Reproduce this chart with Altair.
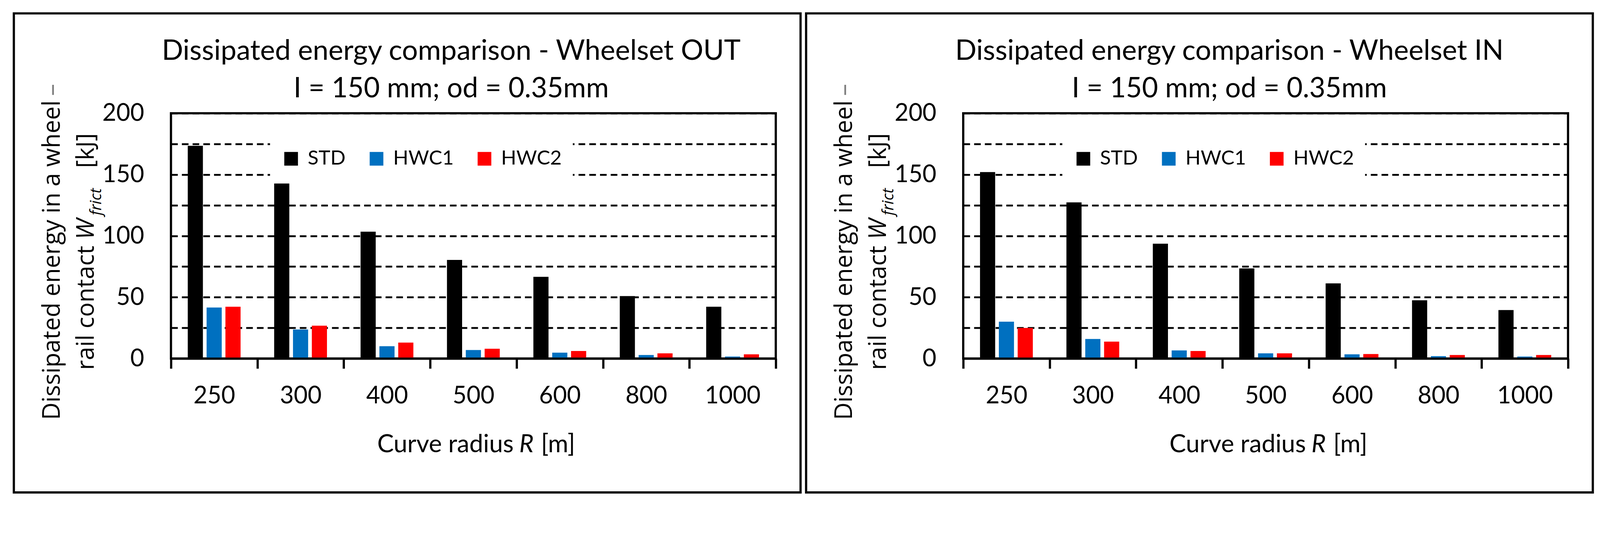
import altair as alt
import pandas as pd

# ---------------- data ----------------
radii = ["250", "300", "400", "500", "600", "800", "1000"]
series = ["STD", "HWC1", "HWC2"]
colors = ["#000000", "#0070C0", "#FF0000"]

out_std = [173.5, 142.7, 103.4, 80.4, 66.6, 50.9, 42.2]
out_hwc1 = [41.6, 23.7, 10.0, 6.9, 4.8, 2.9, 1.6]
out_hwc2 = [42.2, 26.8, 13.0, 8.0, 6.1, 4.2, 3.4]

in_std = [152.0, 127.3, 93.6, 73.5, 61.3, 47.5, 39.5]
in_hwc1 = [30.0, 15.9, 6.6, 4.2, 3.4, 1.9, 1.6]
in_hwc2 = [24.9, 13.8, 6.1, 4.2, 3.7, 2.9, 2.9]

title_out = ["Dissipated energy comparison - Wheelset OUT", "I = 150 mm; od = 0.35mm"]
title_in = ["Dissipated energy comparison - Wheelset IN", "I = 150 mm; od = 0.35mm"]

y_title_1 = "Dissipated energy in a wheel"
y_title_dash = "\u2013"
y_title_2 = "rail contact"
y_title_W = "W"
y_title_sub = "frict"
y_title_unit = "[kJ]"
x_title_1 = "Curve radius"
x_title_R = "R"
x_title_unit = "[m]"

y_ticks = [0, 25, 50, 75, 100, 125, 150, 175, 200]

# ---------------- layout ----------------
W, H = 1636, 663
one = pd.DataFrame({"k": [0]})


def txt(text, x, y, font, size, italic=False, align="left", angle=0, color="black"):
    return alt.Chart(one).mark_text(
        text=text, font=font, fontSize=size,
        fontStyle="italic" if italic else "normal",
        align=align, baseline="alphabetic", angle=angle, color=color,
    ).encode(x=alt.value(x), y=alt.value(y))


def panel(std, h1, h2, title_lines, dx):
    df = pd.DataFrame({
        "radius": radii * 3,
        "series": [s for s in series for _ in radii],
        "value": std + h1 + h2,
    })
    bars = alt.Chart(df).mark_bar().encode(
        x=alt.X("radius:N", sort=radii,
                scale=alt.Scale(paddingInner=0, paddingOuter=0),
                axis=alt.Axis(labelAngle=0, labelFont="Lato", labelFontSize=65,
                              labelColor="black", labelPadding=43, tickSize=27,
                              tickWidth=6, tickColor="black", tickBand="extent",
                              domain=True, domainWidth=6, domainColor="black",
                              title=None, zindex=1, grid=False)),
        xOffset=alt.XOffset("series:N", sort=series,
                            scale=alt.Scale(paddingInner=0.196, paddingOuter=0.892)),
        y=alt.Y("value:Q", scale=alt.Scale(domain=[0, 200], nice=False),
                axis=alt.Axis(values=y_ticks,
                              labelExpr="datum.value % 50 == 0 ? datum.label : ''",
                              grid=True, gridDash=[18, 11], gridWidth=5,
                              gridColor="black", gridOpacity=1, domain=False,
                              ticks=False, tickSize=0, labelFont="Lato",
                              labelFontSize=65, labelColor="black",
                              labelPadding=73, title=None)),
        color=alt.Color("series:N", sort=series,
                        scale=alt.Scale(domain=series, range=colors),
                        legend=alt.Legend(orient="none", legendX=268, legendY=66,
                                          direction="horizontal", title=None,
                                          symbolType="square", symbolSize=1369,
                                          symbolStrokeWidth=0, labelFont="Lato",
                                          labelFontSize=54, labelColor="black",
                                          labelOffset=18, columnPadding=56,
                                          labelLimit=400, padding=30,
                                          fillColor="white")),
    )
    frame = alt.Chart(one).mark_rect(fillOpacity=0, stroke="black", strokeWidth=6).encode(
        x=alt.value(-425), x2=alt.value(W + 67), y=alt.value(-270), y2=alt.value(H + 362)
    )
    texts = [
        txt(title_lines[0], W / 2 + dx, -144, "Lato", 76, align="center"),
        txt(title_lines[1], W / 2 + dx, -43, "Lato", 75, align="center"),
        txt(y_title_1, -301, 829, "Open Sans", 65, angle=270),
        txt(y_title_dash, -301, -47, "Open Sans", 65, angle=270, color="#808080"),
        txt(y_title_2, -209, 358, "Open Sans", 65, align="right", angle=270),
        txt(y_title_W, -209, 341, "Open Sans", 65, italic=True, angle=270),
        txt(y_title_sub, -189, 276, "Open Sans", 42, italic=True, angle=270),
        txt(y_title_unit, -209, 148, "Open Sans", 65, angle=270),
        txt(x_title_1, 927, 916, "Lato", 67, align="right"),
        txt(x_title_R, 942, 916, "Lato", 67, italic=True),
        txt(x_title_unit, 1001, 916, "Lato", 67),
    ]
    return alt.layer(frame, bars, *texts).properties(width=W, height=H)


left = panel(out_std, out_hwc1, out_hwc2, title_out, -60)
right = panel(in_std, in_hwc1, in_hwc2, title_in, -98)

chart = alt.hconcat(left, right, spacing=3).resolve_scale(
    color="independent", x="independent", y="independent", xOffset="independent"
).resolve_legend(color="independent").configure(
    padding={"left": 23, "top": -15, "right": 5, "bottom": 5},
    background="white",
).configure_view(stroke="black", strokeWidth=6)

chart.save("out.html", embed_options={"renderer": "svg", "actions": False})
